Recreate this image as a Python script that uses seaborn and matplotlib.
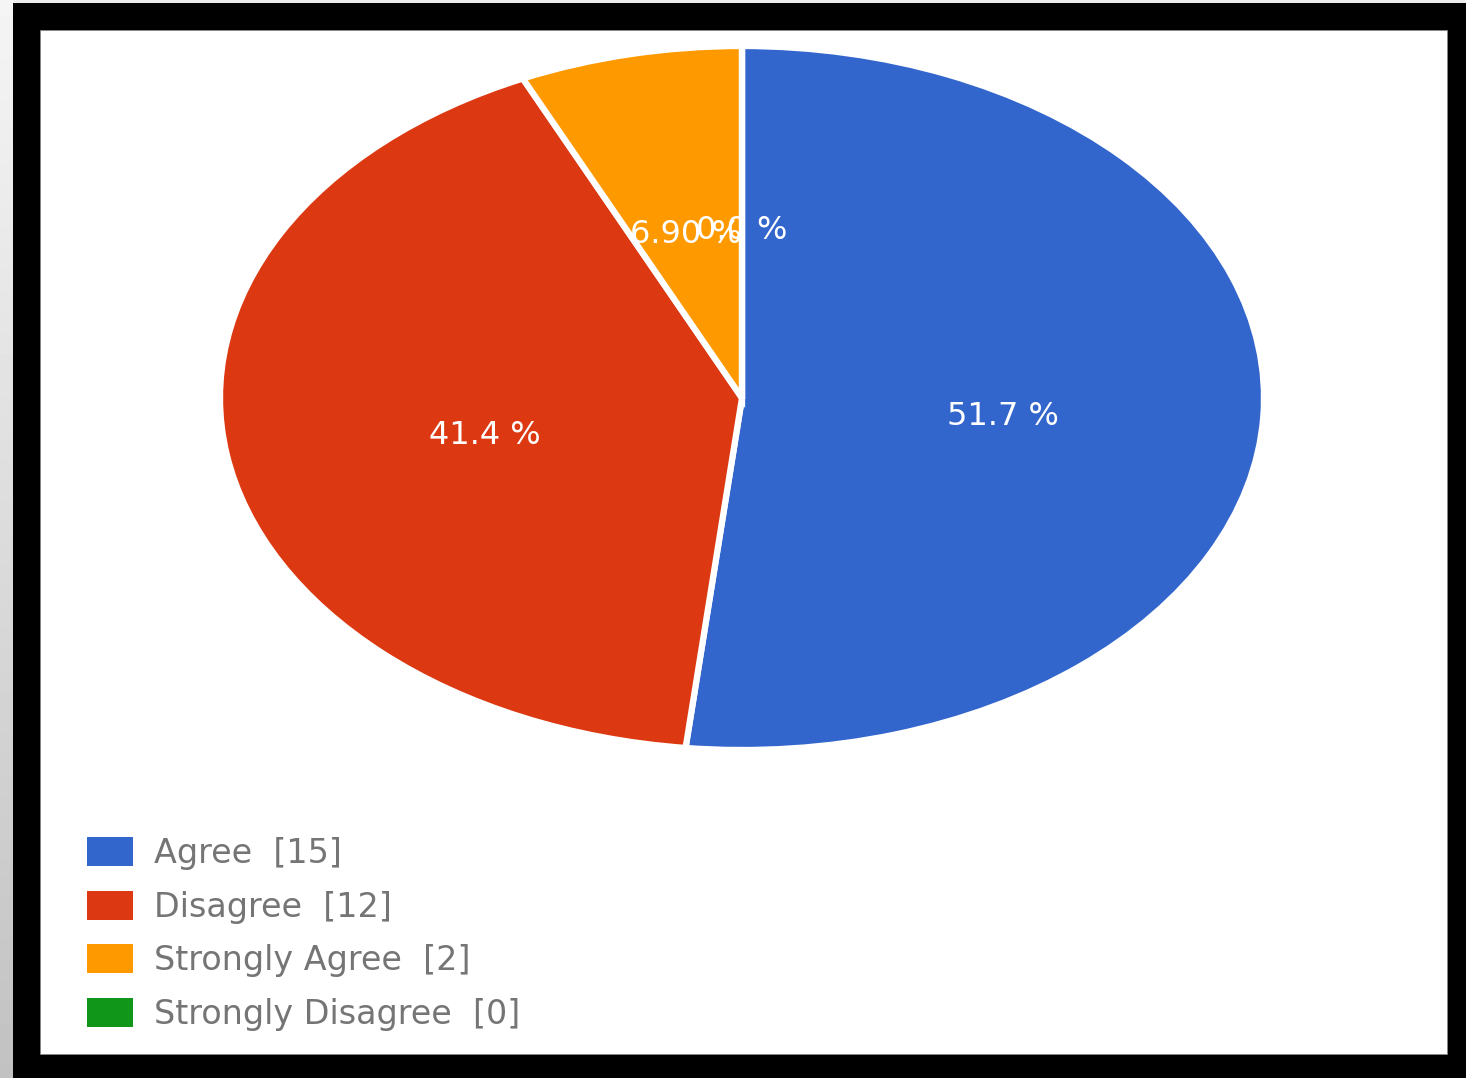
import numpy as np
import matplotlib
matplotlib.use("Agg")
import matplotlib.pyplot as plt
from matplotlib.patches import Rectangle
import seaborn as sns

# Survey responses
categories = ["Agree", "Disagree", "Strongly Agree", "Strongly Disagree"]
counts = [15, 12, 2, 0]
palette = ["#3366cc", "#dc3912", "#ff9900", "#109618"]

sns.set_theme(style="white")
plt.rcParams["font.family"] = ["DejaVu Sans"]

W, H = 1466, 1078
fig = plt.figure(figsize=(W / 100, H / 100), dpi=100, facecolor="black")

# light strip on the left edge, fading darker toward the bottom
grad = fig.add_axes([0, 0, 13 / W, 1], zorder=-2)
grad.imshow(np.linspace(0.96, 0.76, 256).reshape(-1, 1), cmap="gray",
            vmin=0, vmax=1, aspect="auto", extent=[0, 1, 0, 1])
grad.set_axis_off()
# thin light strip along the top
fig.patches.append(Rectangle((0, 1 - 3 / H), 1, 3 / H, transform=fig.transFigure,
                             facecolor="#eeeeee", edgecolor="none", zorder=-3))
# white card
fig.patches.append(Rectangle((40 / W, (H - 1054) / H), (1447 - 40) / W, (1054 - 30) / H,
                             transform=fig.transFigure, facecolor="white",
                             edgecolor="#888888", linewidth=0.6, zorder=-3))

# pie axes (stretched horizontally)
cx, cy, rx, ry = 742, 398, 522, 352
ax = fig.add_axes([(cx - rx) / W, (H - cy - ry) / H, 2 * rx / W, 2 * ry / H], zorder=1)
ax.set_facecolor("none")


def fmt_pct(p):
    return "0.0 %" if p == 0 else f"{p:#.3g} %"


_, _, autotexts = ax.pie(
    counts, colors=palette, startangle=90, counterclock=False,
    autopct=fmt_pct, pctdistance=0.5,
    wedgeprops=dict(edgecolor="white", linewidth=4.5),
    textprops=dict(color="white", fontsize=23),
)
# nudge the percentage labels slightly downward
for t in autotexts:
    x, y = t.get_position()
    t.set_position((x, y - 0.025))

ax.set_aspect("auto")
ax.set_xlim(-1, 1)
ax.set_ylim(-1, 1)
ax.set_axis_off()

# legend
handles = [Rectangle((0, 0), 1, 1, facecolor=c, edgecolor="none") for c in palette]
labels = [f"{c}  [{n}]" for c, n in zip(categories, counts)]
fig.legend(handles, labels, loc="upper left",
           bbox_to_anchor=(87 / W, (H - 837) / H),
           frameon=False, fontsize=24, labelcolor="#757575",
           handlelength=1.37, handleheight=0.96, handletextpad=0.65,
           labelspacing=0.62, borderpad=0, borderaxespad=0)

fig.savefig("out.png", dpi=100, facecolor="black")
